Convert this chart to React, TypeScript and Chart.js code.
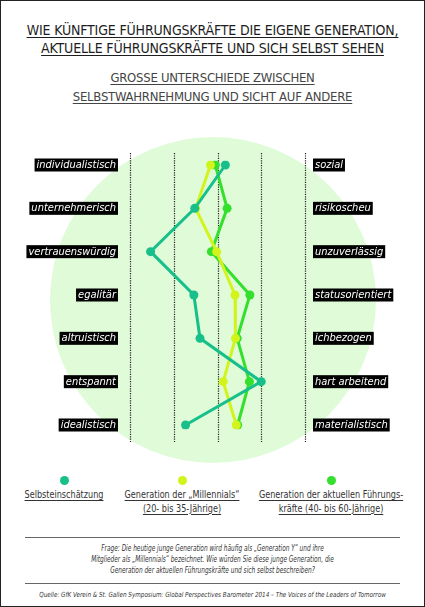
import React, { useEffect, useRef } from 'react';
import { Chart, registerables } from 'chart.js';

Chart.register(...registerables);

// Kategorien (links / rechts) und Werte je Gruppe
const leftLabels = ['individualistisch', 'unternehmerisch', 'vertrauenswürdig', 'egalitär', 'altruistisch', 'entspannt', 'idealistisch'];
const rightLabels = ['sozial', 'risikoscheu', 'unzuverlässig', 'statusorientiert', 'ichbezogen', 'hart arbeitend', 'materialistisch'];
const selbstValues = [0.18, -0.52, -1.53, -0.54, -0.4, 1.0, -0.73];
const millennialValues = [-0.16, -0.5, -0.02, 0.4, 0.41, 0.13, 0.43];
const fuehrungValues = [-0.05, 0.22, -0.14, 0.74, 0.45, 0.73, 0.46];
const gridValues = [-2, -1, 0, 1, 2];

const seriesNames = ['Selbsteinschätzung', 'Generation der „Millennials“', 'Generation der aktuellen Führungskräfte'];
const seriesColors = ['#17bf8b', '#d2f41c', '#34df2e'];

const FONT = "'DejaVu Sans Condensed', 'DejaVu Sans', sans-serif";

// Hellgrüner Kreis + gepunktete Linien, vor den Achsen gezeichnet
const backgroundPlugin = {
  id: 'bgDecor',
  beforeDraw(chart: any) {
    const { ctx, chartArea, scales } = chart;
    const cx = (chartArea.left + chartArea.right) / 2 - 4.5;
    const cy = (chartArea.top + chartArea.bottom) / 2 + 5;
    ctx.save();
    ctx.beginPath();
    ctx.arc(cx, cy, 163, 0, Math.PI * 2);
    ctx.fillStyle = '#dffbd7';
    ctx.fill();
    ctx.strokeStyle = '#222';
    ctx.lineWidth = 1.2;
    ctx.setLineDash([1.2, 1.2]);
    gridValues.forEach((v) => {
      const x = Math.round(scales.x.getPixelForValue(v)) + 0.5;
      ctx.beginPath();
      ctx.moveTo(x, chartArea.top - 12);
      ctx.lineTo(x, chartArea.bottom + 17);
      ctx.stroke();
    });
    ctx.restore();
  },
};

const LineChart: React.FC = () => {
  const canvasRef = useRef<HTMLCanvasElement | null>(null);
  const chartRef = useRef<Chart | null>(null);

  useEffect(() => {
    if (!canvasRef.current) return;
    const ctx = canvasRef.current.getContext('2d');
    if (!ctx) return;
    if (chartRef.current) chartRef.current.destroy();

    const values = [selbstValues, millennialValues, fuehrungValues];
    const tickFont = { family: FONT, style: 'italic' as const, size: 11, lineHeight: 1 };

    chartRef.current = new Chart(ctx, {
      type: 'line',
      data: {
        labels: leftLabels,
        datasets: values.map((vals, i) => ({
          label: seriesNames[i],
          data: vals,
          borderColor: seriesColors[i],
          backgroundColor: seriesColors[i],
          pointBackgroundColor: seriesColors[i],
          pointBorderColor: seriesColors[i],
          borderWidth: 3,
          pointRadius: 4.5,
          pointBorderWidth: 0,
          tension: 0,
          yAxisID: 'y',
        })),
      },
      options: {
        indexAxis: 'y',
        animation: false,
        responsive: true,
        maintainAspectRatio: false,
        layout: { padding: { top: 35, bottom: 45, left: 0, right: 0 } },
        plugins: { legend: { display: false }, tooltip: { enabled: false } },
        scales: {
          x: { type: 'linear', min: -2, max: 2, display: false },
          y: {
            type: 'category',
            position: 'left',
            offset: false,
            grid: { display: false, drawTicks: false },
            border: { display: false },
            afterFit: (scale: any) => { scale.width = 130; },
            ticks: {
              color: '#fff',
              font: tickFont,
              padding: 14,
              showLabelBackdrop: true,
              backdropColor: '#000',
              backdropPadding: { top: 1, bottom: 1, left: 2, right: 2 },
            },
          },
          y2: {
            type: 'category',
            position: 'right',
            labels: rightLabels,
            offset: false,
            grid: { display: false, drawTicks: false },
            border: { display: false },
            afterFit: (scale: any) => { scale.width = 120; },
            ticks: {
              color: '#fff',
              font: tickFont,
              padding: 10,
              showLabelBackdrop: true,
              backdropColor: '#000',
              backdropPadding: { top: 1, bottom: 1, left: 2, right: 2 },
            },
          },
        },
      },
      plugins: [backgroundPlugin],
    });

    return () => {
      if (chartRef.current) {
        chartRef.current.destroy();
        chartRef.current = null;
      }
    };
  }, []);

  return <canvas ref={canvasRef} />;
};

const legendItems = [
  { x: 64, lines: ['Selbsteinschätzung'] },
  { x: 182, lines: ['Generation der „Millennials“', '(20- bis 35-Jährige)'] },
  { x: 331, lines: ['Generation der aktuellen Führungs-', 'kräfte (40- bis 60-Jährige)'] },
];

const App: React.FC = () => {
  useEffect(() => {
    document.body.style.margin = '0';
  }, []);

  const center: React.CSSProperties = { position: 'absolute', left: 0, width: 425, textAlign: 'center' };
  const ul: React.CSSProperties = { textDecoration: 'underline', textUnderlineOffset: 2 };

  return (
    <div style={{ position: 'relative', width: 425, height: 607, background: '#fff', fontFamily: FONT, overflow: 'hidden' }}>
      <div style={{ ...center, top: 22, fontSize: 14, lineHeight: '17.5px', color: '#1e1e1e', letterSpacing: -0.15 }}>
        <span style={ul}>WIE KÜNFTIGE FÜHRUNGSKRÄFTE DIE EIGENE GENERATION,</span>
        <br />
        <span style={ul}>AKTUELLE FÜHRUNGSKRÄFTE UND SICH SELBST SEHEN</span>
      </div>
      <div style={{ ...center, top: 68, fontSize: 13, lineHeight: '19px', color: '#444', letterSpacing: -0.25 }}>
        <span style={ul}>GROSSE UNTERSCHIEDE ZWISCHEN</span>
        <br />
        <span style={ul}>SELBSTWAHRNEHMUNG UND SICHT AUF ANDERE</span>
      </div>

      <div style={{ position: 'absolute', left: 0, top: 130, width: 425, height: 340 }}>
        <LineChart />
      </div>

      {legendItems.map((item, i) => (
        <div key={i}>
          <div style={{ position: 'absolute', left: item.x - 4.5, top: 476, width: 9, height: 9, borderRadius: '50%', background: seriesColors[i] }} />
          <div style={{ position: 'absolute', left: item.x - 100, top: 488, width: 200, textAlign: 'center', fontSize: 10, lineHeight: '13.5px', color: '#333', transform: 'scaleX(0.9)' }}>
            {item.lines.map((l, j) => (
              <div key={j}>
                <span style={ul}>{l}</span>
              </div>
            ))}
          </div>
        </div>
      ))}

      <div style={{ position: 'absolute', left: 25, top: 537, width: 375, height: 1, background: '#666' }} />
      <div style={{ ...center, top: 543, fontSize: 8.5, lineHeight: '11px', fontStyle: 'italic', color: '#333', transform: 'scaleX(0.76)' }}>
        Frage: Die heutige junge Generation wird häufig als „Generation Y“ und ihre
        <br />
        Mitglieder als „Millennials“ bezeichnet. Wie würden Sie diese junge Generation, die
        <br />
        Generation der aktuellen Führungskräfte und sich selbst beschreiben?
      </div>
      <div style={{ position: 'absolute', left: 25, top: 583, width: 375, height: 1, background: '#666' }} />
      <div style={{ ...center, top: 590, fontSize: 7, lineHeight: '10px', fontStyle: 'italic', color: '#333', transform: 'scaleX(0.9)' }}>
        Quelle: GfK Verein &amp; St. Gallen Symposium: Global Perspectives Barometer 2014 – The Voices of the Leaders of Tomorrow
      </div>

      <div style={{ position: 'absolute', left: 0, top: 0, width: 425, height: 607, boxSizing: 'border-box', border: '1.5px solid #222', pointerEvents: 'none' }} />
    </div>
  );
};

export default App;
